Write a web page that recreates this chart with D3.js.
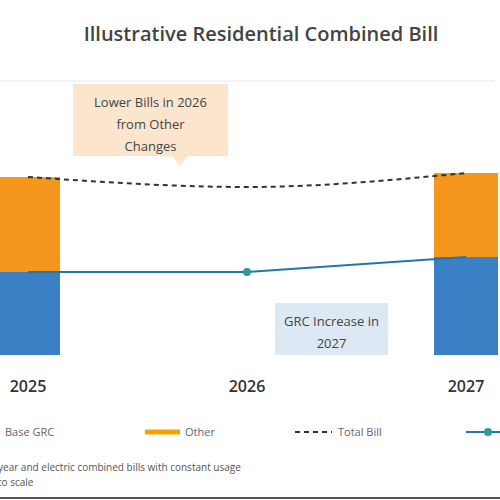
<!DOCTYPE html>
<html><head><meta charset="utf-8">
<script src="https://cdn.jsdelivr.net/npm/d3@7"></script>
<style>body{margin:0;background:#fff}svg{font-family:"Open Sans",sans-serif}</style>
</head><body><div id="chart"></div>
<script>
// data
const years = ["2025", "2026", "2027"];
const baseGrc = [83, 83, 98];
const other = [95, null, 84];
const totalBill = [178, 168, 182];

const w = 500, h = 500;
const svg = d3.select("#chart").append("svg").attr("width", w).attr("height", h);

// x positions: chart is cropped, categories spread past both edges
const x = d3.scalePoint().domain(years).range([28, 466]);
const y = d3.scaleLinear().domain([0, 200]).range([355, 155]);
const bw = 64;

// title
svg.append("text").text("Illustrative Residential Combined Bill")
   .attr("x", 261).attr("y", 41).attr("text-anchor", "middle")
   .style("font-size", "20px").style("font-weight", "600").style("fill", "#444");
svg.append("line").attr("x1", 0).attr("x2", 495).attr("y1", 81).attr("y2", 81)
   .style("stroke", "#e6e6e6");

// bars
years.forEach((yr, i) => {
    if (other[i] == null) return;
    svg.append("rect").attr("x", x(yr) - bw / 2).attr("width", bw)
       .attr("y", y(baseGrc[i])).attr("height", y(0) - y(baseGrc[i]))
       .style("fill", "#3b7fc4");
    svg.append("rect").attr("x", x(yr) - bw / 2).attr("width", bw)
       .attr("y", y(baseGrc[i] + other[i])).attr("height", y(0) - y(other[i]))
       .style("fill", "#f5961d");
});

// total bill dashed line
const line = d3.line().x((d, i) => x(years[i])).y(d => y(d)).curve(d3.curveMonotoneX);
svg.append("path").datum(totalBill).attr("d", line)
   .style("fill", "none").style("stroke", "#333").style("stroke-width", 2)
   .style("stroke-dasharray", "5,4");

// base grc line
const line2 = d3.line().x((d, i) => x(years[i])).y(d => y(d));
svg.append("path").datum(baseGrc).attr("d", line2)
   .style("fill", "none").style("stroke", "#2277aa").style("stroke-width", 2);
svg.append("circle").attr("cx", x("2026")).attr("cy", y(baseGrc[1])).attr("r", 4)
   .style("fill", "#2a9d9a");

// x axis labels
svg.selectAll(".xl").data(years).enter().append("text")
   .attr("x", d => x(d)).attr("y", 392).attr("text-anchor", "middle")
   .text(d => d).style("font-size", "16px").style("font-weight", "600").style("fill", "#333");

// annotations
function box(x0, y0, bwid, bh, fill, lines) {
    svg.append("rect").attr("x", x0).attr("y", y0).attr("width", bwid).attr("height", bh)
       .style("fill", fill);
    lines.forEach((t, i) => svg.append("text").text(t)
       .attr("x", x0 + bwid / 2).attr("y", y0 + 23 + i * 22).attr("text-anchor", "middle")
       .style("font-size", "13px").style("fill", "#444"));
}
box(73, 84, 155, 72, "#fbe6cd", ["Lower Bills in 2026", "from Other", "Changes"]);
svg.append("path").attr("d", "M172,156 L180,166 L188,156Z").style("fill", "#fbe6cd");
box(275, 303, 113, 52, "#dce8f4", ["GRC Increase in", "2027"]);

// legend
const lg = svg.append("g").style("font-size", "11px").style("fill", "#666");
lg.append("text").text("Base GRC").attr("x", 5).attr("y", 436);
lg.append("line").attr("x1", -20).attr("x2", 0).attr("y1", 432).attr("y2", 432)
  .style("stroke", "#3b7fc4").style("stroke-width", 5);
lg.append("line").attr("x1", 145).attr("x2", 180).attr("y1", 432).attr("y2", 432)
  .style("stroke", "#f5a300").style("stroke-width", 5);
lg.append("text").text("Other").attr("x", 185).attr("y", 436);
lg.append("line").attr("x1", 295).attr("x2", 332).attr("y1", 432).attr("y2", 432)
  .style("stroke", "#333").style("stroke-width", 2).style("stroke-dasharray", "5,4");
lg.append("text").text("Total Bill").attr("x", 338).attr("y", 436);
lg.append("line").attr("x1", 466).attr("x2", 500).attr("y1", 432).attr("y2", 432)
  .style("stroke", "#2277aa").style("stroke-width", 2);
lg.append("circle").attr("cx", 488).attr("cy", 432).attr("r", 4).style("fill", "#2a9d9a");

// footnotes
svg.append("text").text("year and electric combined bills with constant usage")
   .attr("x", -2).attr("y", 471).style("font-size", "10px").style("fill", "#555");
svg.append("text").text("to scale")
   .attr("x", -2).attr("y", 486).style("font-size", "10px").style("fill", "#555");

svg.append("line").attr("x1", 0).attr("x2", 500).attr("y1", 498).attr("y2", 498)
   .style("stroke", "#555").style("stroke-width", 2);
</script></body></html>
